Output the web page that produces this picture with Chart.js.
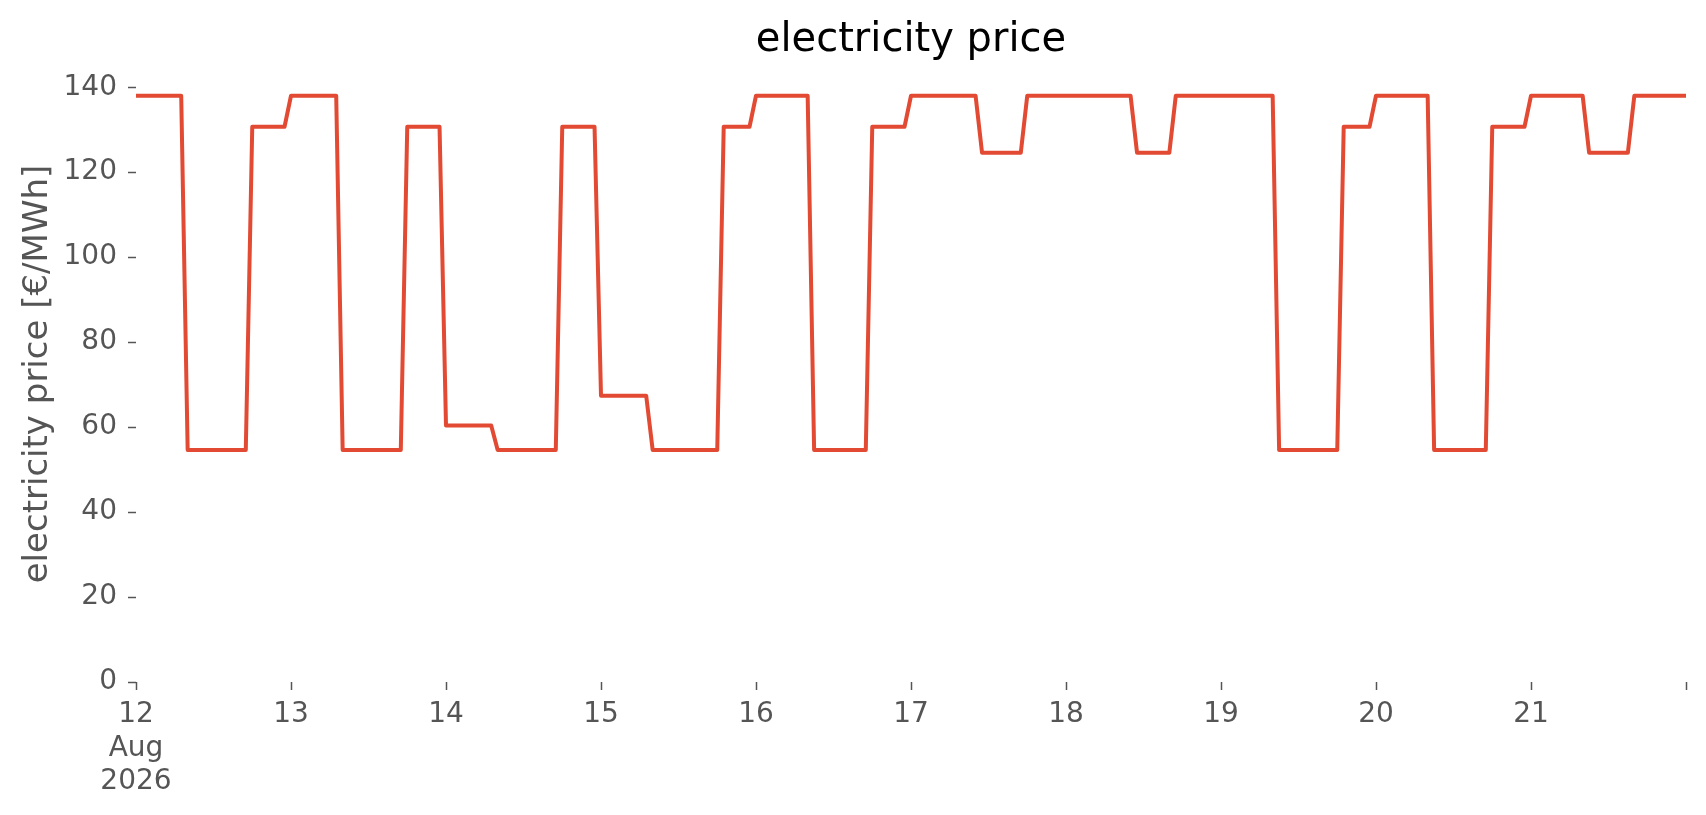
<!DOCTYPE html>
<html>
<head>
<meta charset="utf-8">
<title>electricity price</title>
<script src="https://cdn.jsdelivr.net/npm/chart.js@4/dist/chart.umd.min.js"></script>
<style>
  html, body { margin: 0; padding: 0; background: #fff; }
  #wrap { width: 1706px; height: 815px; position: relative; }
</style>
</head>
<body>
<div id="wrap"><canvas id="priceChart"></canvas></div>
<script>
// vertices of the hourly price curve (where the level changes)
const times = [
  '2026-08-12T00:00', '2026-08-12T07:00', '2026-08-12T08:00', '2026-08-12T17:00', '2026-08-12T18:00', '2026-08-12T23:00',
  '2026-08-13T00:00', '2026-08-13T07:00', '2026-08-13T08:00', '2026-08-13T17:00', '2026-08-13T18:00', '2026-08-13T23:00',
  '2026-08-14T00:00', '2026-08-14T07:00', '2026-08-14T08:00', '2026-08-14T17:00', '2026-08-14T18:00', '2026-08-14T23:00',
  '2026-08-15T00:00', '2026-08-15T07:00', '2026-08-15T08:00', '2026-08-15T18:00', '2026-08-15T19:00', '2026-08-15T23:00',
  '2026-08-16T00:00', '2026-08-16T08:00', '2026-08-16T09:00', '2026-08-16T17:00', '2026-08-16T18:00', '2026-08-16T23:00',
  '2026-08-17T00:00', '2026-08-17T10:00', '2026-08-17T11:00', '2026-08-17T17:00', '2026-08-17T18:00',
  '2026-08-18T10:00', '2026-08-18T11:00', '2026-08-18T16:00', '2026-08-18T17:00',
  '2026-08-19T08:00', '2026-08-19T09:00', '2026-08-19T18:00', '2026-08-19T19:00', '2026-08-19T23:00',
  '2026-08-20T00:00', '2026-08-20T08:00', '2026-08-20T09:00', '2026-08-20T17:00', '2026-08-20T18:00', '2026-08-20T23:00',
  '2026-08-21T00:00', '2026-08-21T08:00', '2026-08-21T09:00', '2026-08-21T15:00', '2026-08-21T16:00',
  '2026-08-22T00:00'
];
const prices = [
  138, 138, 54.6, 54.6, 130.7, 130.7,
  138, 138, 54.6, 54.6, 130.7, 130.7,
  60.4, 60.4, 54.6, 54.6, 130.7, 130.7,
  67.4, 67.4, 54.6, 54.6, 130.7, 130.7,
  138, 138, 54.6, 54.6, 130.7, 130.7,
  138, 138, 124.6, 124.6, 138,
  138, 124.6, 124.6, 138,
  138, 54.6, 54.6, 130.7, 130.7,
  138, 138, 54.6, 54.6, 130.7, 130.7,
  138, 138, 124.6, 124.6, 138,
  138
];

const xTickDates = [
  '2026-08-12T00:00', '2026-08-13T00:00', '2026-08-14T00:00', '2026-08-15T00:00', '2026-08-16T00:00', '2026-08-17T00:00',
  '2026-08-18T00:00', '2026-08-19T00:00', '2026-08-20T00:00', '2026-08-21T00:00', '2026-08-22T00:00'
];
const xTickLabels = [['12', 'Aug', '2026'], '13', '14', '15', '16', '17', '18', '19', '20', '21', ''];
const yTicks = [0, 20, 40, 60, 80, 100, 120, 140];

const toMs = s => new Date(s).getTime();
const xTickValues = xTickDates.map(toMs);
const points = times.map((t, i) => ({ x: toMs(t), y: prices[i] }));

const tickFont = { family: 'DejaVu Sans', size: 28, lineHeight: 1.2 };
const grey = '#555555';

const ctx = document.getElementById('priceChart').getContext('2d');
const priceChart = new Chart(ctx, {
  type: 'line',
  data: {
    datasets: [{
      label: 'electricity price',
      data: points,
      borderColor: '#E24A33',
      borderWidth: 4,
      borderJoinStyle: 'round',
      pointRadius: 0,
      tension: 0,
      fill: false
    }]
  },
  options: {
    responsive: true,
    maintainAspectRatio: false,
    animation: false,
    layout: { padding: { left: 0, right: 20, top: 0, bottom: 0 } },
    plugins: {
      legend: { display: false },
      tooltip: { enabled: false },
      title: {
        display: true,
        fullSize: false,   // centre over the plot area, like matplotlib
        text: 'electricity price',
        color: '#000',
        font: { family: 'DejaVu Sans', size: 40, weight: 'normal', lineHeight: 1.2 },
        padding: { top: 17, bottom: 1 }
      }
    },
    scales: {
      x: {
        type: 'linear',
        min: xTickValues[0],
        max: xTickValues[xTickValues.length - 1],
        afterBuildTicks: axis => { axis.ticks = xTickValues.map(v => ({ value: v })); },
        afterFit: axis => { axis.height = 133; },
        border: { display: false },
        grid: { drawOnChartArea: false, tickLength: 8, tickColor: grey, tickWidth: 1.5 },
        ticks: {
          color: grey,
          font: tickFont,
          padding: 8,
          autoSkip: false,
          maxRotation: 0,
          callback: function(value) {
            const i = xTickValues.indexOf(value);
            return i >= 0 ? xTickLabels[i] : '';
          }
        }
      },
      y: {
        min: 0,
        max: 145,
        afterBuildTicks: axis => { axis.ticks = yTicks.map(v => ({ value: v })); },
        afterFit: axis => { axis.width = 136; },
        border: { display: false },
        grid: { drawOnChartArea: false, tickLength: 8, tickColor: grey, tickWidth: 1.5 },
        ticks: { color: grey, font: tickFont, padding: 11 },
        title: {
          display: true,
          text: 'electricity price [€/MWh]',
          color: grey,
          font: { family: 'DejaVu Sans', size: 34, lineHeight: 1.2 },
          padding: { top: 18, bottom: 0 }
        }
      }
    }
  }
});
</script>
</body>
</html>
